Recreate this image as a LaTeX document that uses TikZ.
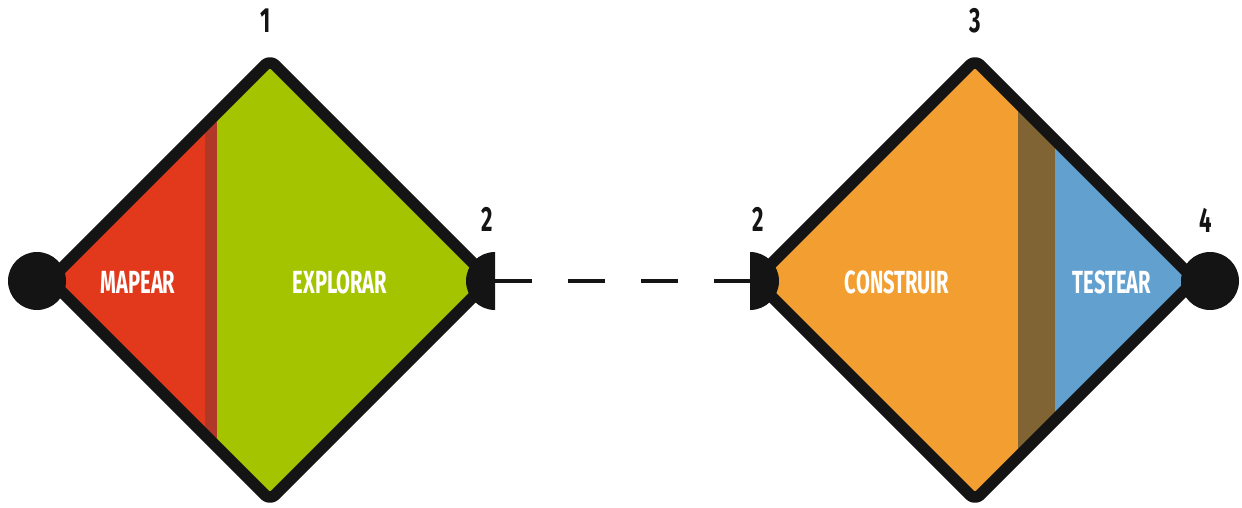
\documentclass[tikz,border=0pt]{standalone}
\usepackage{fontspec}
\newfontfamily\labfont{Fira Sans}
\definecolor{cred}{RGB}{226,57,28}
\definecolor{cdred}{RGB}{176,56,40}
\definecolor{cgreen}{RGB}{165,196,0}
\definecolor{corange}{RGB}{242,158,48}
\definecolor{cbrown}{RGB}{128,100,52}
\definecolor{cblue}{RGB}{98,160,208}
\definecolor{cblack}{RGB}{20,20,20}
\tikzset{
  outline/.style={draw=cblack,line width=11.5pt,rounded corners=7pt,line join=round},
  lab/.style={text=white,font=\labfont\bfseries\fontsize{32}{32}\selectfont,inner sep=0pt,anchor=center},
  num/.style={text=cblack,font=\labfont\bfseries\fontsize{35}{35}\selectfont,inner sep=0pt,anchor=center},
  conn/.style={draw=cblack,line width=3.5pt,dash pattern=on 36.5pt off 36.5pt}
}
\newcommand{\nar}[1]{\scalebox{0.63}[1]{#1}}
\begin{document}
\begin{tikzpicture}[x=1pt,y=-1pt]
\useasboundingbox (0,0) rectangle (1242,508);
% left diamond
\coordinate (L) at (270,280);
\coordinate (Lt) at (270,60);
\coordinate (Lr) at (490,280);
\coordinate (Lb) at (270,500);
\coordinate (Ll) at (50,280);
\begin{scope}
\clip (Lt) -- (Lr) -- (Lb) -- (Ll) -- cycle;
\fill[cred] (0,0) rectangle (205,508);
\fill[cdred] (205,0) rectangle (217,508);
\fill[cgreen] (217,0) rectangle (500,508);
\end{scope}
\draw[outline] (Lt) -- (Lr) -- (Lb) -- (Ll) -- cycle;
% right diamond
\coordinate (R) at (975,280);
\coordinate (Rt) at (975,60);
\coordinate (Rr) at (1195,280);
\coordinate (Rb) at (975,500);
\coordinate (Rl) at (755,280);
\begin{scope}
\clip (Rt) -- (Rr) -- (Rb) -- (Rl) -- cycle;
\fill[corange] (740,0) rectangle (1018,508);
\fill[cbrown] (1018,0) rectangle (1055,508);
\fill[cblue] (1055,0) rectangle (1242,508);
\end{scope}
\draw[outline] (Rt) -- (Rr) -- (Rb) -- (Rl) -- cycle;
% end points
\fill[cblack] (37,281) circle[radius=29pt];
\fill[cblack] (1210,281) circle[radius=29pt];
\coordinate (hl) at (495,281);
\coordinate (hr) at (750,281);
\fill[cblack] (hl) ++(0,-29) arc[start angle=90,end angle=270,radius=29pt] -- cycle;
\fill[cblack] (hr) ++(0,-29) arc[start angle=90,end angle=-90,radius=29pt] -- cycle;
\draw[conn] (hl) -- (hr);
% labels
\node[lab] (mapear) at (138,282) {\nar{MAPEAR}};
\node[lab] (explorar) at (340,282) {\nar{EXPLORAR}};
\node[lab] (construir) at (897,282) {\nar{CONSTRUIR}};
\node[lab] (testear) at (1112,282) {\nar{TESTEAR}};
% numbers
\node[num] (n1) at (266,21) {\nar{1}};
\node[num] (n3) at (975,21) {\nar{3}};
\node[num] (n2a) at (487,219) {\nar{2}};
\node[num] (n2b) at (758,219) {\nar{2}};
\node[num] (n4) at (1206,220) {\nar{4}};
\end{tikzpicture}
\end{document}
